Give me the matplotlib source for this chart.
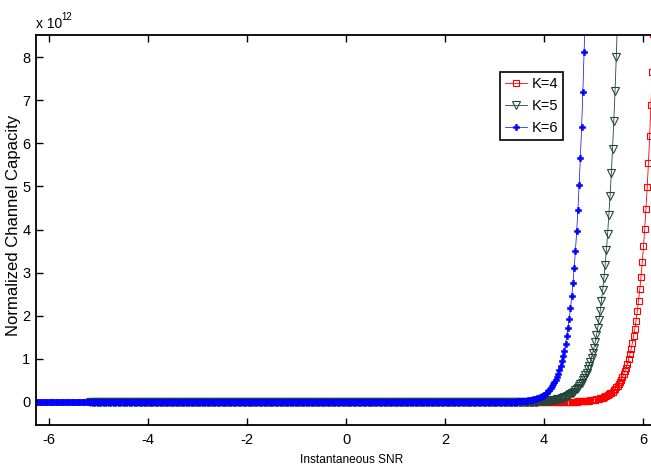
import numpy as np
import matplotlib
matplotlib.use("Agg")
import matplotlib.pyplot as plt

plt.rcParams['font.family'] = ['Liberation Sans', 'DejaVu Sans']

# ---- data (values in units of 1e12) ----
snr_step = 0.025
k6_x0 = -6.29
k5_x0 = -5.165
k4_x0 = -4.165

k6_y = [0.0] * 384 + [
    0.006, 0.007, 0.008, 0.009, 0.010, 0.011, 0.012, 0.014, 0.016, 0.018,
    0.020, 0.023, 0.026, 0.029, 0.033, 0.037, 0.041, 0.047, 0.053, 0.059,
    0.067, 0.075, 0.085, 0.10, 0.11, 0.12, 0.14, 0.15, 0.17, 0.20,
    0.22, 0.25, 0.28, 0.32, 0.36, 0.41, 0.46, 0.52, 0.58, 0.65,
    0.74, 0.83, 0.94, 1.06, 1.19, 1.35, 1.52, 1.71, 1.93, 2.17,
    2.45, 2.76, 3.11, 3.51, 3.96, 4.46, 5.03, 5.67, 6.39, 7.20,
    8.12, 9.15]

k5_y = [0.0] * 356 + [
    0.006, 0.007, 0.008, 0.009, 0.010, 0.011, 0.012, 0.013, 0.015, 0.017,
    0.018, 0.020, 0.023, 0.025, 0.028, 0.031, 0.034, 0.038, 0.042, 0.047,
    0.052, 0.058, 0.064, 0.071, 0.078, 0.087, 0.096, 0.11, 0.12, 0.13,
    0.14, 0.16, 0.18, 0.20, 0.22, 0.24, 0.27, 0.30, 0.33, 0.37,
    0.41, 0.45, 0.50, 0.56, 0.62, 0.68, 0.76, 0.84, 0.93, 1.03,
    1.14, 1.26, 1.40, 1.55, 1.72, 1.91, 2.11, 2.34, 2.59, 2.87,
    3.18, 3.52, 3.90, 4.33, 4.79, 5.31, 5.88, 6.52, 7.22, 8.00,
    8.86]

k4_y = [0.0] * 348 + [
    0.006, 0.007, 0.008, 0.009, 0.010, 0.011, 0.012, 0.013, 0.015, 0.016,
    0.018, 0.020, 0.023, 0.025, 0.028, 0.031, 0.035, 0.039, 0.043, 0.048,
    0.054, 0.060, 0.067, 0.074, 0.083, 0.092, 0.10, 0.11, 0.13, 0.14,
    0.16, 0.18, 0.20, 0.22, 0.24, 0.27, 0.30, 0.34, 0.38, 0.42,
    0.47, 0.52, 0.58, 0.65, 0.72, 0.80, 0.89, 0.99, 1.11, 1.23,
    1.37, 1.53, 1.70, 1.89, 2.11, 2.35, 2.61, 2.91, 3.24, 3.61,
    4.02, 4.48, 4.98, 5.55, 6.18, 6.88, 7.66, 8.53, 9.50]

labels = ['K=4', 'K=5', 'K=6']
x_ticks = [-6, -4, -2, 0, 2, 4, 6]
y_ticks = [0, 1, 2, 3, 4, 5, 6, 7, 8]

def grid(x0, y):
    return x0 + snr_step * np.arange(len(y))

W, H = 651, 465
fig = plt.figure(figsize=(W / 100, H / 100), dpi=100)
left_px, right_px, top_px, bot_px = 36, 667.75, 35, 425
ax = fig.add_axes([left_px / W, 1 - bot_px / H, (right_px - left_px) / W, (bot_px - top_px) / H])

ax.plot(grid(k4_x0, k4_y), k4_y, color='#ff0000', lw=0.6, marker='s', ms=5,
        mfc='none', mec='#ff0000', mew=0.8, label=labels[0])
ax.plot(grid(k5_x0, k5_y), k5_y, color='#23463a', lw=0.6, marker='v', ms=5.5,
        mfc='none', mec='#23463a', mew=0.8, label=labels[1])
ax.plot(grid(k6_x0, k6_y), k6_y, color='#0000ff', lw=0.5, marker='P', ms=4.5,
        mfc='#0000ff', mec='#0000ff', mew=0.4, label=labels[2])

ax.set_xlim(-6.263, 6.5)
ax.set_ylim(-0.534, 8.515)
ax.set_xticks(x_ticks)
ax.set_xticklabels([str(v) for v in x_ticks])
ax.set_yticks(y_ticks)
ax.set_yticklabels([str(v) for v in y_ticks])
ax.tick_params(direction='in', length=5, width=1, labelsize=10.5, top=True, right=True,
               colors='black')
ax.tick_params(axis='x', pad=6)
ax.tick_params(axis='y', pad=4)
for s in ax.spines.values():
    s.set_linewidth(1.3)
    s.set_color('black')

ax.set_xlabel('Instantaneous SNR', fontsize=8.6, labelpad=5)
ax.set_ylabel('Normalized Channel Capacity', fontsize=12)
ax.yaxis.set_label_coords((21 - left_px) / (right_px - left_px), (bot_px - 225) / (bot_px - top_px))

fig.text(36 / W, 1 - 24 / H, 'x 10', fontsize=10, ha='left', va='center')
fig.text(61 / W, 1 - 17 / H, '12', fontsize=7, ha='left', va='center')

leg = ax.legend(loc='upper left',
                bbox_to_anchor=((500 - left_px) / (right_px - left_px), (bot_px - 72) / (bot_px - top_px)),
                borderaxespad=0, fancybox=False, framealpha=1, edgecolor='black',
                fontsize=10.5, handlelength=1.5, handletextpad=0.3, borderpad=0.35,
                labelspacing=0.55)
leg.get_frame().set_linewidth(1.2)

fig.savefig('out.png', dpi=100)
